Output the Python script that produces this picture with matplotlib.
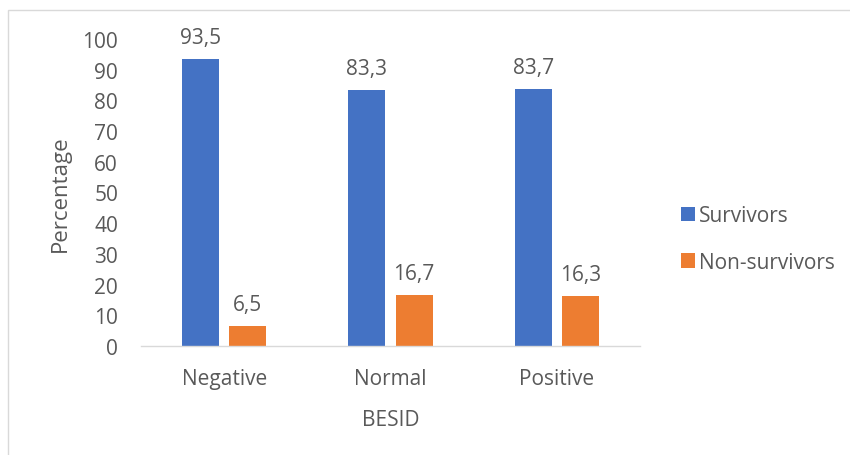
import matplotlib.pyplot as plt
import numpy as np
from matplotlib.patches import Rectangle

categories = ["Negative", "Normal", "Positive"]
survivors = [93.5, 83.3, 83.7]
non_survivors = [6.5, 16.7, 16.3]
series_names = ["Survivors", "Non-survivors"]
yticks = [0, 10, 20, 30, 40, 50, 60, 70, 80, 90, 100]

BLUE = "#4472C4"
ORANGE = "#ED7D31"
TEXT = "#595959"
FS = 15

plt.rcParams['font.family'] = ['Open Sans', 'DejaVu Sans']

fig = plt.figure(figsize=(8.5, 4.56), dpi=100)
# chart-area frame (runs off the right and bottom edges)
fig.patches.append(Rectangle((8 / 850, -0.1), 1.0, (445 / 456) + 0.1,
                             transform=fig.transFigure, fill=False,
                             edgecolor="#D9D9D9", linewidth=1.0))
ax = fig.add_axes([141 / 850, 109 / 456, 499 / 850, 307 / 456])

x = np.arange(len(categories))
w = 0.222
off = 0.1416
b1 = ax.bar(x - off, survivors, w, color=BLUE, label=series_names[0])
b2 = ax.bar(x + off, non_survivors, w, color=ORANGE, label=series_names[1])

for bars, vals in ((b1, survivors), (b2, non_survivors)):
    for r, v in zip(bars, vals):
        ax.annotate(f"{v:.1f}".replace(".", ","),
                    (r.get_x() + r.get_width() / 2, v),
                    xytext=(0, 8), textcoords="offset points",
                    ha="center", va="bottom", fontsize=FS, color=TEXT)

ax.set_xlim(-0.5, 2.5)
ax.set_ylim(0, 100)
ax.set_yticks(yticks)
ax.set_xticks(x)
ax.set_xticklabels(categories)
ax.tick_params(axis="both", length=0, labelsize=FS, colors=TEXT)
ax.tick_params(axis="y", pad=16.5)
ax.tick_params(axis="x", pad=15.5)
for s in ("top", "right", "left"):
    ax.spines[s].set_visible(False)
ax.spines["bottom"].set_color("#D9D9D9")
ax.spines["bottom"].set_linewidth(1.0)

ax.set_ylabel("Percentage", fontsize=16, color=TEXT, labelpad=8)
ax.set_xlabel("BESID", fontsize=FS, color=TEXT, labelpad=15)

ax.legend(loc="center left", bbox_to_anchor=(1.044, 0.348),
          bbox_transform=ax.transAxes, frameon=False,
          fontsize=FS, labelcolor=TEXT, handlelength=0.67, handleheight=0.67,
          handletextpad=0.2, labelspacing=1.22)

fig.savefig("out.png", dpi=100)
